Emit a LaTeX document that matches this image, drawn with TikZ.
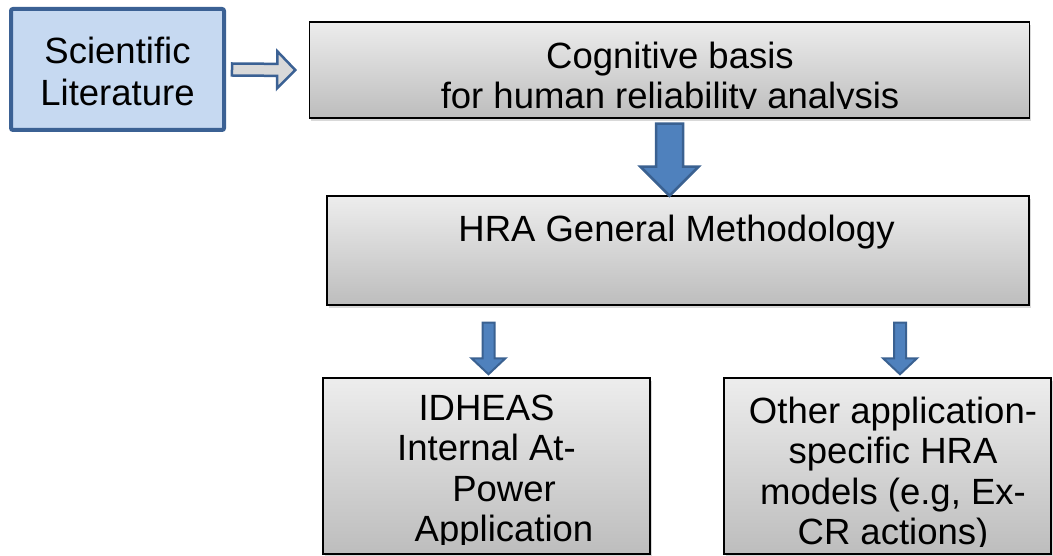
\documentclass[tikz,border=0pt]{standalone}
\usepackage{fontspec}
\setmainfont{Liberation Sans}
\usetikzlibrary{calc,shadows}

\definecolor{litfill}{HTML}{C6D9F1}
\definecolor{litline}{HTML}{3B6194}
\definecolor{boxtop}{HTML}{EDEDED}
\definecolor{boxbottom}{HTML}{BDBDBD}
\definecolor{arrowfill}{HTML}{4F81BD}
\definecolor{arrowline}{HTML}{3A6191}
\definecolor{hollowfill}{HTML}{D9D9D9}

% fat arrow from #2 to #3: shaft half width #4, head half width #5, head length #6
\newcommand{\blockarrow}[6][]{%
  \coordinate (headbase) at ($(#3)!#6!(#2)$);
  \draw[#1] ($(#2)!#4!90:(#3)$) -- ($(headbase)!#4!90:(#3)$)
    -- ($(headbase)!#5!90:(#3)$) -- (#3) -- ($(headbase)!#5!-90:(#3)$)
    -- ($(headbase)!#4!-90:(#3)$) -- ($(#2)!#4!-90:(#3)$) -- cycle;}

\begin{document}
\begin{tikzpicture}[x=1pt,y=1pt,
    graybox/.style={draw, line width=1.5pt, top color=boxtop, bottom color=boxbottom,
      drop shadow={opacity=0.3, shadow xshift=1.5pt, shadow yshift=-3pt}},
    litbox/.style={draw=litline, line width=4pt, fill=litfill, rounded corners=2pt},
    boxtext/.style={font=\fontsize{36.5pt}{40.5pt}\selectfont, align=center, inner sep=0pt, anchor=north},
    bluearrow/.style={draw=arrowline, fill=arrowfill, line width=2.5pt},
    hollowarrow/.style={draw=litline, fill=hollowfill, line width=2.5pt}]
  \useasboundingbox (0,-556) rectangle (1053,0);

  % boxes
  \node[litbox, minimum width=213pt, minimum height=121pt] (lit) at (117.5,-69.5) {};
  \node[graybox, minimum width=720pt, minimum height=96pt] (cog) at (669.5,-70) {};
  \node[graybox, minimum width=702pt, minimum height=109pt] (hra) at (678,-250.5) {};
  \node[graybox, minimum width=327pt, minimum height=176pt] (idheas) at (486.5,-466) {};
  \node[graybox, minimum width=327pt, minimum height=176pt] (other) at (887.5,-466) {};

  % texts, cut off at the lower margin of each box
  \node[boxtext, font=\fontsize{36.5pt}{42pt}\selectfont] (littext) at (117.5,-37) {Scientific\\Literature};
  \begin{scope}
    \clip ([yshift=10pt]cog.south west) rectangle (cog.north east);
    \node[boxtext] (cogtext) at (670,-41.7) {Cognitive basis\\for human reliability analysis};
  \end{scope}
  \node[boxtext] (hratext) at (676.5,-215) {HRA General Methodology};
  \begin{scope}
    \clip ([yshift=10.25pt]idheas.south west) rectangle (idheas.north east);
    \node[boxtext] (idheastext) at (486.5,-394.7)
      {IDHEAS\\Internal At-\\\hspace*{35pt}Power\\\hspace*{35pt}Application};
  \end{scope}
  \begin{scope}
    \clip ([yshift=8pt]other.south west) rectangle (other.north east);
    \node[boxtext] (othertext) at (893,-396.5)
      {Other application-\\specific HRA\\models (e.g, Ex-\\CR actions)};
  \end{scope}

  % arrow ends
  \coordinate (litout) at ([xshift=6pt]lit.east);
  \coordinate (cogin) at ([xshift=-13.5pt]cog.west);
  \coordinate (cogout) at ([yshift=-5pt]cog.south);
  \coordinate (hrain) at ([yshift=-0.5pt]cog.south |- hra.north);
  \coordinate (idout) at ($(idheas.north |- hra.south)+(2,-17)$);
  \coordinate (idin) at ($(idheas.north)+(2,3)$);
  \coordinate (otherout) at ($(other.north |- hra.south)+(12.5,-17)$);
  \coordinate (otherin) at ($(other.north)+(12.5,3)$);

  % arrows
  \blockarrow[hollowarrow]{litout}{cogin}{6pt}{18.5pt}{18pt}
  \blockarrow[bluearrow]{cogout}{hrain}{13.5pt}{29pt}{29pt}
  \blockarrow[bluearrow, line width=2pt]{idout}{idin}{6pt}{17pt}{16pt}
  \blockarrow[bluearrow, line width=2pt]{otherout}{otherin}{6pt}{17pt}{16pt}
\end{tikzpicture}
\end{document}
